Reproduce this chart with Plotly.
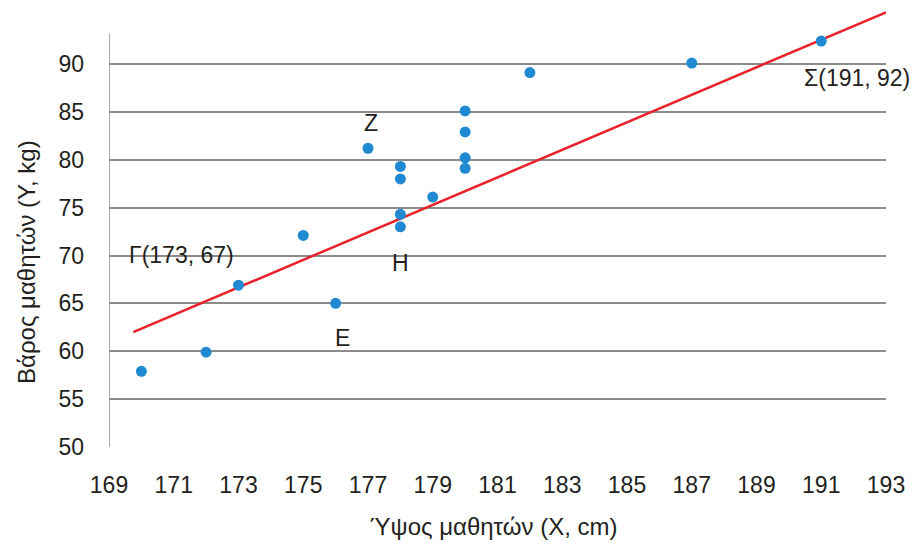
import plotly.graph_objects as go

heights = [170, 172, 173, 175, 176, 177, 178, 178, 178, 178, 179, 180, 180, 180, 180, 182, 187, 191]
weights = [57.9, 59.9, 66.9, 72.1, 65.0, 81.2, 79.3, 78.0, 74.3, 73.0, 76.1, 85.1, 82.9, 80.2, 79.1, 89.1, 90.1, 92.4]

fit_x = [169.75, 193.0]
fit_y = [62.0, 95.4]

x_ticks = list(range(169, 194, 2))
y_ticks = list(range(50, 91, 5))

x_title = "Ύψος μαθητών (X, cm)"
y_title = "Βάρος μαθητών (Y, kg)"

point_labels = [
    ("Γ(173, 67)", 171.25, 70.05),
    ("Z", 177.1, 83.8),
    ("H", 178.0, 69.2),
    ("E", 176.2, 61.4),
    ("Σ(191, 92)", 192.1, 88.5),
]

TXT = "#231f20"
GRID = "#8c8c8c"
FONT = "Liberation Sans, Arial, sans-serif"

# page body has an 8px margin: plot area on screen is x 109..886, y 8..447
OFF = 8
W, H = 923 - OFF, 548 - OFF
PL, PR, PT, PB = 109, 886, 8, 447

fig = go.Figure()
fig.add_trace(go.Scatter(x=fit_x, y=fit_y, mode="lines",
                         line=dict(color="#e8222a", width=2.5),
                         hoverinfo="skip", showlegend=False))
fig.add_trace(go.Scatter(x=heights, y=weights, mode="markers",
                         marker=dict(color="#1f8ad2", size=11),
                         cliponaxis=False, showlegend=False))

for txt, xx, yy in point_labels:
    fig.add_annotation(x=xx, y=yy, text=txt, showarrow=False,
                       xanchor="center", yanchor="middle",
                       font=dict(size=23, color=TXT, family=FONT))

fig.add_annotation(xref="paper", yref="paper",
                   x=(493.5 - PL) / (PR - PL), y=(PB - 526) / (PB - PT),
                   xanchor="center", yanchor="middle",
                   text=x_title, showarrow=False,
                   font=dict(size=24, color=TXT, family=FONT))
fig.add_annotation(xref="paper", yref="paper",
                   x=(26 - PL) / (PR - PL), y=(PB - 262) / (PB - PT),
                   xanchor="center", yanchor="middle",
                   text=y_title, showarrow=False, textangle=-90,
                   font=dict(size=24, color=TXT, family=FONT))

# left axis line
fig.add_shape(type="line", xref="x", yref="y", x0=169, x1=169, y0=50, y1=93.2,
              line=dict(color=GRID, width=1.5), layer="below")

fig.update_layout(
    width=W, height=H,
    margin=dict(l=PL - OFF, r=W - (PR - OFF), t=0, b=H - (PB - OFF)),
    paper_bgcolor="white", plot_bgcolor="white",
    font=dict(family=FONT, color=TXT, size=23),
    showlegend=False,
    xaxis=dict(range=[169, 193], tickvals=x_ticks, showgrid=False, zeroline=False,
               showline=False, ticks="", ticklabelstandoff=22,
               tickfont=dict(size=23, color=TXT)),
    yaxis=dict(range=[50, 50 + (PB - PT) / 9.575], tickvals=y_ticks, showgrid=True,
               gridcolor=GRID, gridwidth=1.5, zeroline=False, showline=False, ticks="",
               ticklabelstandoff=24, tickfont=dict(size=23, color=TXT)),
)

fig.write_html("out.html")
